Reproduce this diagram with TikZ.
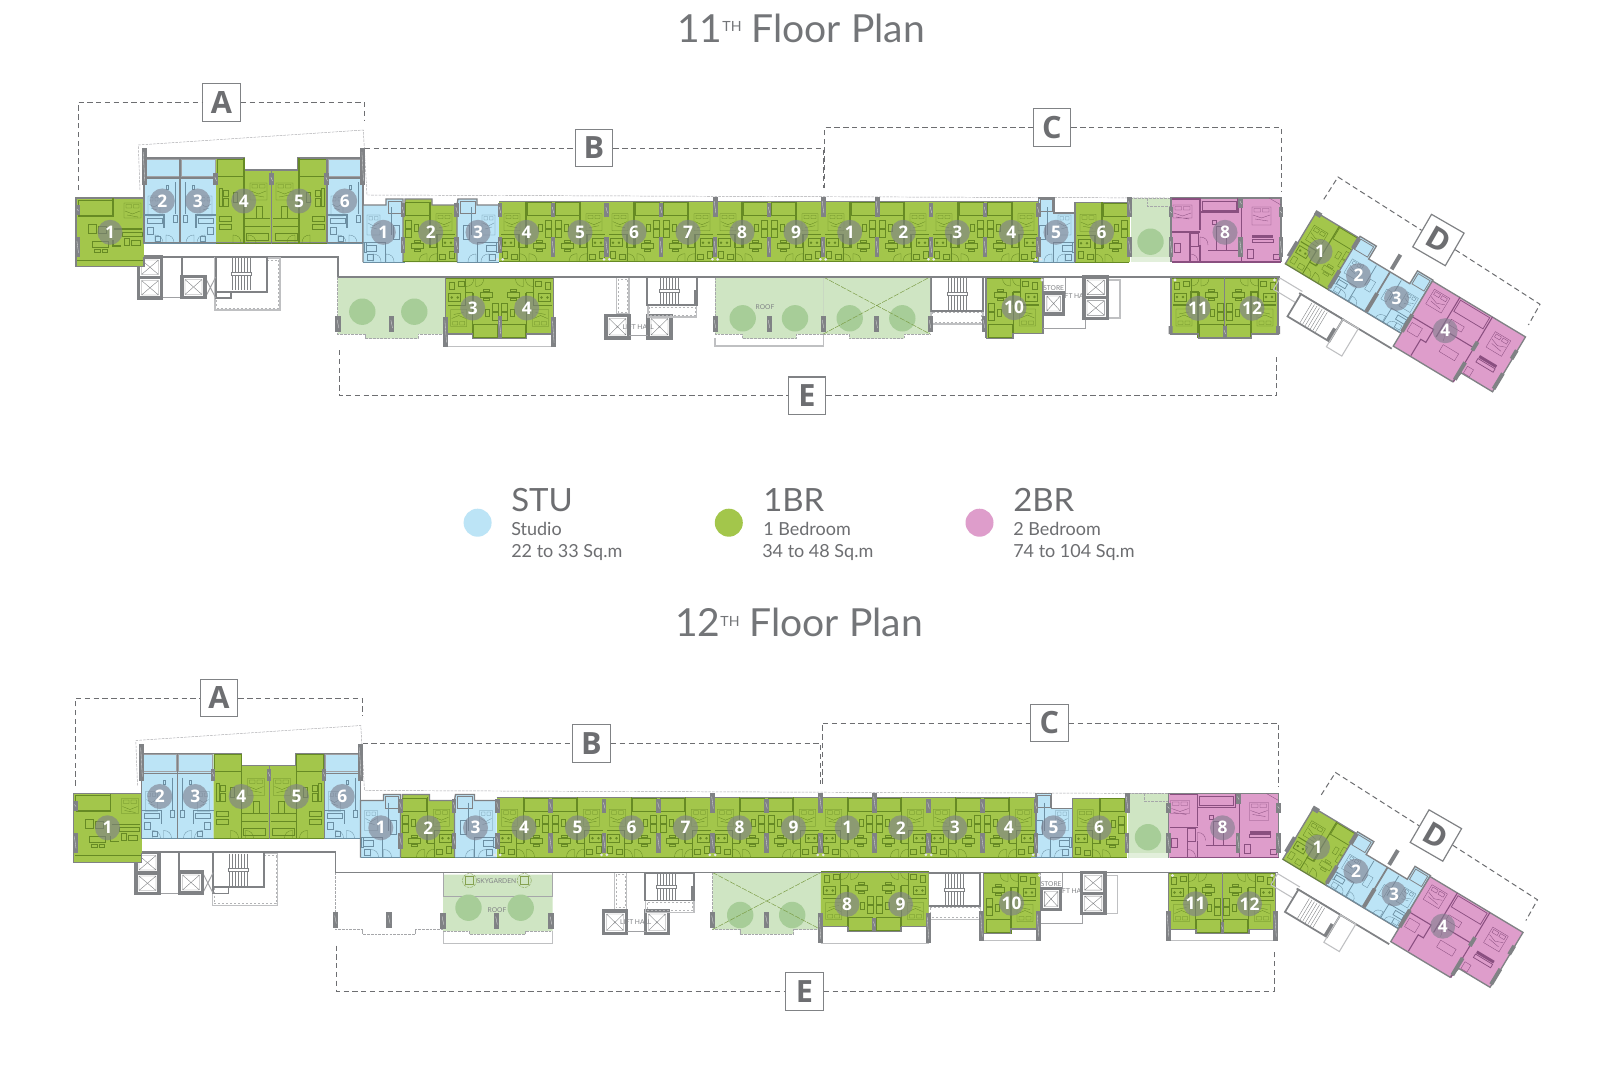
\documentclass[tikz,border=0pt]{standalone}
\usepackage{fontspec}
\setmainfont{Lato}
\newfontfamily\ttlfont[FakeStretch=1.01]{Lato}
\newfontfamily\lgdfont{Lato}
\newfontfamily\lghfont[FakeStretch=1.03]{Lato}
\newfontfamily\lblfont{Open Sans}
\definecolor{gr}{HTML}{A3C64B}
\definecolor{bl}{HTML}{BCE4F6}
\definecolor{pk}{HTML}{DE9DCB}
\definecolor{lg}{HTML}{CFE5C3}
\definecolor{tr}{HTML}{A7CD98}
\definecolor{wall}{HTML}{808285}
\definecolor{ink}{HTML}{6D6E71}
\definecolor{cg}{HTML}{7E7E8C}
\definecolor{dkg}{HTML}{668A24}
\definecolor{dkb}{HTML}{6C8FA3}
\definecolor{dkp}{HTML}{8A4F80}
\colorlet{dt}{dkg}
\tikzset{
  dash line/.style={draw=ink,line width=.75pt,dash pattern=on 4pt off 2.6pt},
  ghost/.style={draw=wall!70,line width=.35pt,dash pattern=on 2pt off .8pt},
  lbox/.style={draw=wall,line width=.9pt,fill=white,minimum size=28.2pt,inner sep=0pt,text=ink,font=\lblfont\bfseries\fontsize{23}{23}\selectfont},
  numc/.style={circle,fill=cg,fill opacity=.6,text opacity=1,text=white,minimum size=18.8pt,inner sep=0pt,font=\lblfont\bfseries\fontsize{13}{13}\selectfont},
  unit/.style={draw=wall,line width=1pt},
  wl/.style={draw=wall,line width=1.3pt},
  wt/.style={draw=wall!75,line width=.7pt},
  wlt/.style={draw=wall!50,line width=.8pt},
  dtk/.style={draw=dt,line width=.8pt},
  dtw/.style={draw=dt,line width=.55pt},
  dtt/.style={draw=dt,line width=.25pt},
  tiny/.style={text=wall,inner sep=0pt,font=\fontsize{5}{5}\selectfont},
  lgh/.style={inner sep=0pt,anchor=base west,text=ink,font=\lghfont\fontsize{24}{24}\selectfont},
  lgs/.style={inner sep=0pt,anchor=base west,text=ink,font=\lgdfont\fontsize{13.5}{14}\selectfont},
  pil/.style={fill=wall,draw=none}
}
\newcommand\dooR[2]{\draw[dtt] (#1,#2)--(#1,#2-8) .. controls (#1+5,#2-8) and (#1+8,#2-5) .. (#1+8,#2);}
% bed: frame, two pillows, creased cover
\newcommand\bedd[4]{\draw[dtt] (#1,#2) rectangle (#3,#4) (#1+2,#2+1.5) rectangle (#1/2+#3/2-1,#2+5) (#1/2+#3/2+1,#2+1.5) rectangle (#3-2,#2+5) (#1+1,#2+8)--(#1/2+#3/2,#2+11)--(#3-1,#2+8) (#1+3,#2+12)--(#3-3,#2+14);}
% one-bedroom interior, local box 54 x 60
\newcommand\detailG{%
  \draw[dtw] (28,1) rectangle (52,14);
  \draw[dtk] (27,0)--(27,46)--(20,46)--(20,33)--(2,33);
  \draw[dtw] (28,33)--(28,46);
  \bedd{5}{12}{21}{29}
  \draw[dtt] (46,18) rectangle (52,26) (46,27) rectangle (52,35);
  \draw[dtt] (39,22) rectangle (43,29);
  \draw[dtw] (3,37) rectangle (15,45);
  \fill[dt] (6,41) circle (1.4) (12,41) circle (1.4);
  \draw[dtt] (3,49) rectangle (8,56) (12,52) rectangle (18,57);
  \draw[dtt] (34,41) rectangle (46,46) (37,38) rectangle (43,40) (37,47) rectangle (43,49);
  \dooR{20}{60}\dooR{30}{60}
  \draw[dtw] (0,60)--(54,60) (20,46)--(20,60);
}
% studio interior, local box 42 x 57
\newcommand\detailS{%
  \draw[dtw] (28,2)--(28,30);
  \draw[dtw] (0,37)--(22,37)--(22,57);
  \bedd{4}{10}{17}{30}
  \draw[dtt] (30,20) rectangle (36,34);
  \draw[dtw] (3,40) rectangle (13,46);
  \draw[dtt] (4,49) rectangle (10,55) (1,37) rectangle (3,47);
  \dooR{23}{57}\dooR{10}{57}
  \draw[dtw] (0,57)--(42,57);
}
% long studio interior, local box 36 x 85
\newcommand\detailA{%
  \draw[wt] (1,1) rectangle (35,18);
  \draw[wl] (0,20)--(36,20);
  \bedd{4}{38}{16}{58}
  \draw[dtt] (22,27) rectangle (24,31) (31,24)--(31,56) (29,57) rectangle (33,64);
  \draw[dtk] (0,57)--(20,57)--(20,70);
  \draw[dtw] (3,60) rectangle (18,65);
  \draw[dtt] (3,69) rectangle (9,76) (11,78) rectangle (16,83);
  \dooR{22}{85}\dooR{11}{85}
  \draw[dtw] (0,85)--(36,85);
}
% large one-bedroom of the first wing, local box 55 x 85
\newcommand\detailL{%
  \draw[dtw] (1,1) rectangle (28,18);
  \draw[dtk] (28,0)--(28,85);
  \draw[dtt] (7,32) rectangle (12,38) (7,40) rectangle (12,48) (3,30) rectangle (6,48) (17,34) rectangle (21,44);
  \bedd{34}{25}{51}{42}
  \draw[dtw] (40,48) rectangle (46,60);
  \draw[dtw] (28,60)--(54,60) (28,68)--(54,68);
  \draw[dtt] (3,58) rectangle (15,63) (3,66) rectangle (15,71) (30,75) rectangle (52,82);
  \dooR{17}{85}\dooR{32}{85}
  \draw[dtw] (0,85)--(55,85);
}
\newcommand\place[6]{%
  \begin{scope}[shift={(#1,#2)},xscale=#3,yscale=#4]\colorlet{dt}{#5}#6\end{scope}}
\newcommand\pill[4]{\fill[pil] (#1-#3/2,#2) rectangle (#1+#3/2,#4);\draw[white!70!wall,line width=.25pt] (#1-.8,#2+4) -- (#1+.8,#4-4);}
\newcommand\duo[1]{\fill[white!80!wall] (#1-2.7,259.3) circle (1.5) (#1+2.7,259.3) circle (1.5);}
\newcommand\treadsV[3]{\foreach \q in {0,...,6}{\draw[wall,line width=.3pt] (#1+\q*3,#2)--(#1+\q*3,#3);}\fill[white] (#1-1,#2/2+#3/2-1.5) rectangle (#1+19,#2/2+#3/2+1.5);\draw[wall,line width=.4pt] (#1-1,#2/2+#3/2-1.5) rectangle (#1+19,#2/2+#3/2+1.5);}
\newcommand\liftb[4]{\draw[wall,line width=2.4pt,fill=white] (#1,#2) rectangle (#3,#4);\draw[wall,line width=.3pt] (#1+3,#2+3) rectangle (#3-3,#4-3) (#1+3,#2+3)--(#3-3,#4-3) (#1+3,#4-3)--(#3-3,#2+3);}
\newcommand\hatchb[4]{\draw[wlt] (#1,#2) rectangle (#3,#4);\draw[wall!60,line width=.3pt,dash pattern=on 1.5pt off 1.5pt] (#1+1.5,#2+2) rectangle (#3-1.5,#4-2);}
\newcommand\tree[2]{\fill[tr] (#1,#2) circle [radius=13.2];}
\newcommand\floorcommon{%
  \node[lbox] (\fp A) at (221.5,102.5) {A};
  \node[lbox] (\fp B) at (594,148) {B};
  \node[lbox] (\fp C) at (1052,127.5) {C};
  \node[lbox] (\fp E) at (807,395.8) {E};
  \node[lbox,rotate=-30] (\fp D) at (1438.4,240) {D};
  \coordinate (\fp a1) at (78,190); \coordinate (\fp a2) at (78,102.5); \coordinate (\fp a3) at (364.5,102.5); \coordinate (\fp a4) at (364.5,120);
  \coordinate (\fp b1) at (365,148); \coordinate (\fp b2) at (823,148); \coordinate (\fp b3) at (823,188);
  \coordinate (\fp c1) at (824.5,188); \coordinate (\fp c2) at (824.5,127.5); \coordinate (\fp c3) at (1281,127.5); \coordinate (\fp c4) at (1281,191);
  \coordinate (\fp e1) at (339,350); \coordinate (\fp e2) at (339,395.8); \coordinate (\fp e3) at (1276.5,395.8); \coordinate (\fp e4) at (1276.5,354);
  \coordinate (\fp d1) at (1323.8,199.3); \coordinate (\fp d2) at (1338,177); \coordinate (\fp d3) at (1540,304.3); \coordinate (\fp d4) at (1528.4,325);
  \draw[dash line] (\fp a1)--(\fp a2)--(\fp A.west) (\fp A.east)--(\fp a3)--(\fp a4);
  \draw[dash line] (\fp b1)--(\fp B.west) (\fp B.east)--(\fp b2)--(\fp b3);
  \draw[dash line] (\fp c1)--(\fp c2)--(\fp C.west) (\fp C.east)--(\fp c3)--(\fp c4);
  \draw[dash line] (\fp e1)--(\fp e2)--(\fp E.west) (\fp E.east)--(\fp e3)--(\fp e4);
  \draw[dash line] (\fp d1)--(\fp d2)--(\fp D.west) (\fp D.east)--(\fp d3)--(\fp d4);
  \draw[ghost] (140,190)--(138.3,145)--(363.3,130)--(367,195)--(1171,198);
  % corridor wall and cores
  \draw[wl] (161,256.7)--(338,256.7)--(338,277)--(1280,277);
  \draw[wl] (181.7,256.7)--(181.7,276);
  \draw[wt] (161,297.7)--(182,297.7);
  \hatchb{215}{258}{280}{310}
  \draw[wl,fill=white] (215.7,256.7) rectangle (266.7,291.7);
  \draw[wl] (215.7,291.7) rectangle (231,298);
  \treadsV{232}{258}{290}
  \draw[wt] (205,277)--(215.7,298) (215.7,277)--(205,298);
  \liftb{138.5}{257}{161.5}{277.5}
  \liftb{138.5}{277.5}{161.5}{298}
  \liftb{182}{276.5}{205}{297.5}
  % first wing, upper blocks
  \fill[gr] (76,198) rectangle (144,266.7);
  \draw[unit] (144,257)--(144,266.7)--(76,266.7)--(76,198)--(144,198);
  \colorlet{dt}{dkg}
  \draw[dtw] (78,200) rectangle (113,215);
  \draw[dtk] (78,216)--(113,216)--(113,198);
  \draw[dtk] (113,240)--(113,246)--(121,246) (114,229)--(142,229);
  \bedd{124}{203}{141}{218}
  \draw[dtw] (122,232) rectangle (142,236);
  \draw[dtt] (88,224) rectangle (96,233) (98,226) rectangle (106,233) (92,241) rectangle (108,247) (94,249) rectangle (100,252) (102,249) rectangle (107,252) (124,238) rectangle (129,245) (131,240) rectangle (140,245);
  \draw[dtt] (77,260)--(143,260);
  \fill[bl] (144,158) rectangle (180,243) (180,158) rectangle (216,243) (327,158) rectangle (363,243);
  \fill[gr] (216,158) rectangle (244,170) (216,170) rectangle (298,243) (298,158) rectangle (327,243);
  \draw[unit] (144,243)--(144,158)--(244.3,158)--(244.3,170)--(298,170)--(298,158)--(363,158)--(363,243)--cycle;
  \place{144}{158}{1}{1}{dkb}{\detailA}
  \place{216}{158}{-1}{1}{dkb}{\detailA}
  \place{327}{158}{1}{1}{dkb}{\detailA}
  \place{216}{158}{1}{1}{dkg}{\detailL}
  \place{327}{158}{-1}{1}{dkg}{\detailL}
  \draw[wl] (180,158)--(180,243) (327,158)--(327,243);
  \draw[wall,line width=.6pt] (271.7,170)--(271.7,243);
  % second wing, upper rows
  \fill[bl] (363,205) rectangle (403,262) (386,199) rectangle (403,215) (457,205) rectangle (499,262) (458,199) rectangle (477,215);
  \fill[gr] (403,205) rectangle (457,262) (405,199) rectangle (432,215);
  \draw[unit] (363,262)--(363,205)--(386,205)--(386,199)--(403,199)--(403,262) (403,205)--(405,205)--(405,199)--(432,199)--(432,205)--(457,205)--(457,262) (457,205)--(458,199)--(477,199)--(477,205)--(499,205);
  \draw[wall,line width=.6pt] (388,201) rectangle (401,213) (460,201) rectangle (475,213);
  \place{363}{205}{1}{1}{dkb}{\detailS}
  \place{499}{205}{-1}{1}{dkb}{\detailS}
  \place{457}{201.7}{-1}{1}{dkg}{\detailG}
  \fill[gr] (499,201.7) rectangle (1038.5,262);
  \draw[unit] (499,201.7)--(1038.5,201.7);
  \foreach \ux in {499,607,715,823,931}{\place{\ux}{201.7}{1}{1}{dkg}{\detailG}}
  \foreach \ux in {607,715,823,931,1039}{\place{\ux}{201.7}{-1}{1}{dkg}{\detailG}}
  \fill[bl] (1038.5,213) rectangle (1075,262) (1038.5,198) rectangle (1054,213);
  \draw[unit] (1038.5,262)--(1038.5,198)--(1054,198)--(1054,213)--(1075,213);
  \draw[wall,line width=.6pt] (1040,199.5) rectangle (1052.5,211.5);
  \place{1075}{205}{-1}{1}{dkb}{\detailS}
  \fill[gr] (1075,202.7) rectangle (1129.5,262);
  \draw[unit] (1075,262)--(1075,202.7)--(1129.5,202.7);
  \place{1075}{202.2}{1}{1}{dkg}{\detailG}
  % sky garden
  \fill[lg] (1130.5,198) rectangle (1171,262);
  \draw[ghost] (1130.5,198)--(1171,198) (1147,198)--(1147,206)--(1171,206);
  \tree{1150.5}{241.7}
  \fill[lg!60!white] (1131,257) rectangle (1170,262);
  % two-bedroom
  \fill[pk] (1171,198) rectangle (1281,262);
  \colorlet{dt}{dkp}
  \draw[unit] (1171,262)--(1171,198)--(1281,198)--(1281,262);
  \draw[dtk] (1172,199)--(1200,199) (1200,198)--(1200,212)--(1238,212)--(1238,198) (1241.7,198)--(1241.7,262) (1200,212)--(1200,230) (1200,245)--(1200,262) (1172,232)--(1200,232) (1190,232)--(1190,262) (1172,262)--(1281,262);
  \draw[dtw] (1202,201) rectangle (1236,210);
  \bedd{1173}{205}{1192}{218}
  \bedd{1252}{207}{1271}{225}
  \draw[dtt] (1269,198)--(1281,205);
  \fill[dt] (1252,235) rectangle (1273,238);
  \draw[dtw] (1252,239) rectangle (1273,242);
  \draw[dtt] (1216,226) rectangle (1226,250) (1208,250)--(1238,250) (1212,220) rectangle (1216,224) (1174,243) rectangle (1180,252) (1190,233) rectangle (1198,246) (1247,249) rectangle (1253,258) (1273,254) rectangle (1279,259);
  \dooR{1200}{245}\dooR{1190}{262}
  % pillars, upper blocks
  \pill{77.7}{205}{5}{215}\pill{77.7}{237}{5}{257}
  \pill{144}{148}{5}{185}\pill{362.7}{148}{5}{185}
  \pill{215.7}{173}{4.5}{185}\pill{271.7}{173}{4.5}{185}\pill{326.7}{173}{4.5}{185}
  \pill{403}{203}{4.5}{217}\pill{403}{237}{4.5}{253}
  \pill{456.7}{203}{4.5}{217}\pill{456.7}{237}{4.5}{253}
  \pill{500}{203}{4.5}{217}\pill{500}{237}{4.5}{253}
  \foreach \px in {553,606.7,661,769,931,985,1038.3}{\pill{\px}{203}{4.5}{217}\pill{\px}{237}{4.5}{257}}
  \foreach \px in {715,823,877}{\pill{\px}{197}{5}{217}\pill{\px}{237}{4.5}{257}}
  \pill{1129.5}{197}{5}{217}\pill{1129.5}{237}{4.5}{257}
  \pill{1171}{207}{4.5}{217}\pill{1171}{237}{4.5}{257}
  \pill{1240.7}{197}{5}{208}\pill{1240.7}{237}{4.5}{257}
  \pill{1281}{207}{4.5}{217}\pill{1281}{237}{4.5}{257}
  \duo{606.7}\duo{715}\duo{823}\duo{931}\duo{1038.3}\duo{500}
  % middle core
  \hatchb{616.7}{277}{629}{314}
  \liftb{606}{315.5}{629}{338}
  \liftb{648}{315.5}{671}{338}
  \draw[wt] (629,335.7)--(648,335.7);
  \node[tiny] (\fp lh1) at (638.3,326.7) {LIFT HALL};
  \hatchb{648}{305}{696.5}{317}
  \draw[wl,fill=white] (647.3,277.3) rectangle (696.7,305);
  \fill[wall] (693.5,290) rectangle (696.7,305);
  \treadsV{660}{278}{304}
  % stair beside unit 10
  \hatchb{931}{310}{983}{324}
  \draw[wl,fill=white] (930.7,277.3) rectangle (982.7,310.7);
  \treadsV{948}{278}{310}
  % unit 10 and store
  \fill[gr] (986,277) rectangle (1043,333.5) (986,326) rectangle (1013,338.3);
  \place{1040.5}{338}{-1}{-1}{dkg}{\detailG}
  \draw[unit] (986,338.3)--(1013,338.3)--(1013,333.5)--(1043,333.5)--(1043,277);
  \draw[unit] (986,277)--(986,338.3);
  \draw[wt] (1043.3,277) rectangle (1065,293);
  \node[tiny] (\fp st) at (1053.7,288.3) {STORE};
  \node[tiny] (\fp lh2) at (1075,296) {LIFT HALL};
  \liftb{1043.8}{293}{1063.3}{314}
  \draw[wt] (1043.3,328)--(1085,328)--(1085,318);
  \draw[wlt] (1107,280) rectangle (1120,318);
  \liftb{1084}{277}{1107.4}{297.6}
  \liftb{1084}{297.6}{1107.4}{318.3}
  % units 11, 12
  \fill[gr] (1171,277) rectangle (1278,334) (1198.5,326) rectangle (1251.5,338);
  \place{1171}{338}{1}{-1}{dkg}{\detailG}
  \place{1278}{338}{-1}{-1}{dkg}{\detailG}
  \draw[unit] (1171,277)--(1171,334)--(1198.5,334)--(1198.5,338)--(1251.5,338)--(1251.5,334)--(1278,334)--(1278,277);
  \draw[wall,line width=.6pt] (1224.8,277)--(1224.8,338);
  \fill[white!80!wall] (1175,280) circle (1.7) (1274.5,280) circle (1.7) (1042,280) circle (1.7);
  \pill{1224.8}{326}{3.5}{338}
  % third wing
  \begin{scope}[shift={(1329,290)},rotate=-31]
    \draw[wlt] (-48,15)--(-22,15) (-48,28)--(-22,28) (-48,15)--(-48,28);
    \draw[wl] (-24,18)--(84,18);
    \draw[wl,fill=white] (-22,18) rectangle (27,44);
    \foreach \q in {0,...,6}{\draw[wall,line width=.3pt] (-8+\q*3,20)--(-8+\q*3,43);}
    \fill[wall] (23,30) rectangle (27,44);
    \draw[wlt] (27,18) rectangle (45,50);
    \fill[gr] (-51,-60) rectangle (2,0);
    \draw[unit] (2,0)--(-51,0)--(-51,-60)--(2,-60);
    \place{-51}{-60}{1}{1}{dkg}{\detailG}
    \fill[bl] (-1,-47) rectangle (85,0) (-1,-62) rectangle (18,-47) (66,-62) rectangle (84,-47);
    \draw[unit] (-1,0)--(-1,-62)--(18,-62)--(18,-47)--(66,-47)--(66,-62)--(84,-62)--(84,0)--cycle;
    \draw[wall,line width=.6pt] (1,-60) rectangle (16,-48) (68,-60) rectangle (82,-48);
    \place{0}{-47}{1}{.82}{dkb}{\detailS}
    \place{85}{-47}{-1}{.82}{dkb}{\detailS}
    \draw[wl] (43,-47)--(43,0);
    \fill[pk] (84,-61)--(192.6,-61)--(192.6,3)--(156,3)--(153,15)--(84,15)--cycle;
    \colorlet{dt}{dkp}
    \draw[unit] (84,-61)--(192.6,-61)--(192.6,3)--(156,3)--(153,15)--(84,15)--cycle;
    \draw[dtk] (116,-61)--(116,-25)--(154,-25)--(154,-61) (116,-25)--(116,-15) (154,-25)--(154,15) (84,-20)--(110,-20)--(110,-5)--(104,-5)--(104,14);
    \draw[dtw] (118,-59) rectangle (152,-46);
    \bedd{90}{-55}{108}{-38}
    \bedd{164}{-50}{182}{-32}
    \draw[dtt] (126,-12) rectangle (144,-4) (120,-38) rectangle (135,-32) (88,-15) rectangle (100,-5) (158,-6) rectangle (165,2);
    \fill[dt] (163,-22) rectangle (183,-19);
    \draw[dtw] (163,-18) rectangle (183,-14);
    \dooR{116}{-15}
    \fill[pil] (-52,-62) rectangle (-45,-57);
    \fill[pil] (-3,-60) rectangle (1,-48) (-54,-25) rectangle (-50,-8) (-3,-22) rectangle (1,-2) (41,-67) rectangle (45,-50) (41,-22) rectangle (45,-1) (82,-22) rectangle (86,-2) (152,-32) rectangle (156,-22) (152,-8) rectangle (156,12) (190,-45) rectangle (194,-35) (190,-18) rectangle (194,0);
  \end{scope}
  % labels of upper rows
  \foreach \nm/\nx/\ny/\tx in {a1/110/232.3/1,a2/162.3/201/2,a3/197.7/201/3,a4/243.7/201/4,a5/299/201/5,a6/344.7/201/6,
    b1/383.3/232.3/1,b2/430.7/232.3/2,b3/478/232.3/3,b4/526.5/232.3/4,b5/580/232.3/5,b6/634/232.3/6,b7/688/232.3/7,b8/742/232.3/8,b9/796/232.3/9,
    c1/849.7/232.3/1,c2/903.3/232.3/2,c3/957.3/232.3/3,c4/1011.3/232.3/4,c5/1056/232.3/5,c6/1101.6/232.3/6,c8/1225/232.3/8,
    d1/1320/251.7/1,d2/1358.5/275.7/2,d3/1396.6/298.3/3,d4/1445.2/330.7/4,
    e10/1014/307.7/10,e11/1198/308.3/11,e12/1252/308.3/12}
    {\node[numc] (\fp n\nm) at (\nx,\ny) {\tx};}
}
\newcommand\floorOverlayA{%
  \fill[lg] (337.5,277)--(445.7,277)--(445.7,334)--(418,334)--(418,338.7)--(365,338.7)--(365,334)--(337.5,334)--cycle;
  \draw[ghost] (337.5,277)--(337.5,334)--(365,334)--(365,338.7)--(418,338.7)--(418,334)--(445.7,334);
  \tree{362.3}{311.7}\tree{414.3}{311.7}
  \pill{338}{316}{5.5}{332}\pill{391.7}{316}{5.5}{332}
  \fill[gr] (445.7,277) rectangle (553.3,334) (472.7,326) rectangle (526.7,338.7);
  \place{445.7}{338.5}{1}{-1}{dkg}{\detailG}
  \place{553.5}{338.5}{-1}{-1}{dkg}{\detailG}
  \draw[unit] (445.7,277)--(445.7,334)--(472.7,334)--(472.7,338.7)--(526.7,338.7)--(526.7,334)--(553.3,334)--(553.3,277);
  \draw[wlt,line width=.5pt] (447,346.7)--(552,346.7);
  \pill{445.7}{316.7}{5}{346.7}\pill{553.3}{316.7}{5}{346.7}\pill{500}{316}{4}{338}
  \node[numc] (\fp ns3) at (472.7,308) {3};
  \node[numc] (\fp ns4) at (526.7,308) {4};
  \fill[lg] (715,277) rectangle (823.3,334) (742.3,334) rectangle (796,338.7);
  \draw[wlt] (715,338)--(715,346)--(823.3,346)--(823.3,277);
  \draw[ghost] (715,277)--(715,334)--(742.3,334)--(742.3,338.7)--(796,338.7)--(796,334)--(823.3,334);
  \tree{742.7}{318.3}\tree{795}{318.3}
  \node[tiny] (\fp rf) at (765,307.3) {ROOF};
  \pill{715}{316}{5}{332}\pill{769}{316}{5}{332}
  \fill[lg] (823.3,277) rectangle (930,334) (849.3,334) rectangle (904,338.7);
  \draw[ghost] (823.3,334)--(849.3,334)--(849.3,338.7)--(904,338.7)--(904,334)--(930,334);
  \tree{849.7}{318.3}\tree{902.3}{318.3}
  \draw[draw=dkg!80!lg,line width=.35pt,dash pattern=on 4pt off 1pt] (823.3,277)--(930,334) (823.3,334)--(930,277);
  \pill{823}{316}{5}{332}\pill{876.7}{316}{5}{332}\pill{930}{316}{5}{332}
  \pill{984}{316}{5}{332}
  \fill[wall] (1168.5,326) rectangle (1172.5,334) (1276,326) rectangle (1280,334);
  \draw[wl] (338,277)--(1280,277);
}
\newcommand\floorOverlayB{%
  \draw[ghost] (338,277)--(338,334)--(365,334)--(365,338.7)--(418,338.7)--(418,334)--(445.7,334);
  \pill{338}{316}{5.5}{332}\pill{391.7}{316}{5.5}{332}
  \fill[lg] (445.7,279) rectangle (555,335.5) (472,335.5) rectangle (528,338.7);
  \draw[draw=wall!70,line width=.5pt] (445.7,277) rectangle (555,301);
  \draw[wlt,line width=.7pt] (445.7,335)--(445.7,347.5)--(555,347.5)--(555,335);
  \draw[ghost] (445.7,335.5)--(472,335.5)--(472,338.7)--(528,338.7)--(528,335.5)--(555,335.5);
  \tree{471}{312.2}\tree{523.2}{312.2}
  \draw[ghost,draw=dkg!80] (472,285) circle [radius=7] (526.8,285) circle [radius=7];
  \draw[dkg!80,line width=.3pt] (468,281) rectangle (476,289) (522.8,281) rectangle (530.8,289);
  \node[tiny] (\fp sk) at (499,285.2) {SKYGARDEN};
  \node[tiny] (\fp rf) at (499.5,314.5) {ROOF};
  \pill{445.4}{317}{5.5}{333}\pill{499}{317}{5.5}{333}\pill{553.5}{317}{5.5}{333}
  \fill[lg] (715,277) rectangle (823.3,334) (742.3,334) rectangle (796,338.7);
  \draw[ghost] (715,277)--(715,334)--(742.3,334)--(742.3,338.7)--(796,338.7)--(796,334)--(823.3,334);
  \tree{742.7}{319.5}\tree{794.7}{319.5}
  \draw[draw=dkg!80!lg,line width=.35pt,dash pattern=on 4pt off 1pt] (715,277)--(823.3,334) (715,334)--(823.3,277);
  \pill{715}{316}{5}{332}\pill{769}{316}{5}{332}
  \fill[gr] (823.3,277) rectangle (931,331) (850.5,327) rectangle (903.5,336);
  \place{823.3}{336}{1}{-1}{dkg}{\detailG}
  \place{931}{336}{-1}{-1}{dkg}{\detailG}
  \draw[unit] (850.5,331)--(850.5,336)--(903.5,336)--(903.5,331) (823.3,331)--(850.5,331) (903.5,331)--(931,331);
  \draw[wlt,line width=.6pt] (823.3,347.5)--(931,347.5);
  \pill{822.5}{317.5}{5}{347.5}\pill{930.5}{317.5}{5}{347.5}\pill{876.7}{322}{3.5}{335}
  \node[numc] (\fp ns8) at (849.5,308.8) {8};
  \node[numc] (\fp ns9) at (903,308.8) {9};
  \draw[wlt,line width=.6pt] (984,345)--(1040.5,345);
  \pill{984}{315}{5}{345}\pill{1040.5}{315}{5}{345}
  \draw[wlt,line width=.6pt] (1171,345)--(1278,345);
  \pill{1170.5}{315}{5}{345}\pill{1278}{315}{5}{345}
  \draw[wl] (338,277)--(1280,277);
}
\begin{document}
\begin{tikzpicture}[x=.75pt,y=-.75pt,line join=miter]
\useasboundingbox (0,0) rectangle (1600,1067);
\fill[white] (0,0) rectangle (1600,1067);
\node[inner sep=0pt,text=wall!90!black,anchor=base] (t11) at (801,42) {\ttlfont\fontsize{29}{29}\selectfont 11\raisebox{8pt}{\fontsize{10.5}{10}\selectfont TH} Floor Plan};
\node[inner sep=0pt,text=wall!90!black,anchor=base] (t12) at (799,636.7) {\ttlfont\fontsize{29}{29}\selectfont 12\raisebox{8pt}{\fontsize{10.5}{10}\selectfont TH} Floor Plan};
\def\fp{p}
\floorcommon
\floorOverlayA
\begin{scope}[shift={(-2.5,595.5)}]
\def\fp{q}
\floorcommon
\floorOverlayB
\end{scope}
\fill[bl] (477.6,522.7) circle [radius=14];
\fill[gr] (728.8,522.7) circle [radius=14];
\fill[pk] (979.5,522.7) circle [radius=14];
\node[lgh] (lh1) at (511,511.7) {STU};
\node[lgh] (lh2) at (763,511.7) {1BR};
\node[lgh] (lh3) at (1013,511.7) {2BR};
\node[lgs] (ls1) at (511,535) {Studio};
\node[lgs] (ls2) at (763,535) {1 Bedroom};
\node[lgs] (ls3) at (1013,535) {2 Bedroom};
\node[lgs] (lr1) at (511,557.3) {22 to 33 Sq.m};
\node[lgs] (lr2) at (762,557.3) {34 to 48 Sq.m};
\node[lgs] (lr3) at (1013,557.3) {74 to 104 Sq.m};
\end{tikzpicture}
\end{document}
